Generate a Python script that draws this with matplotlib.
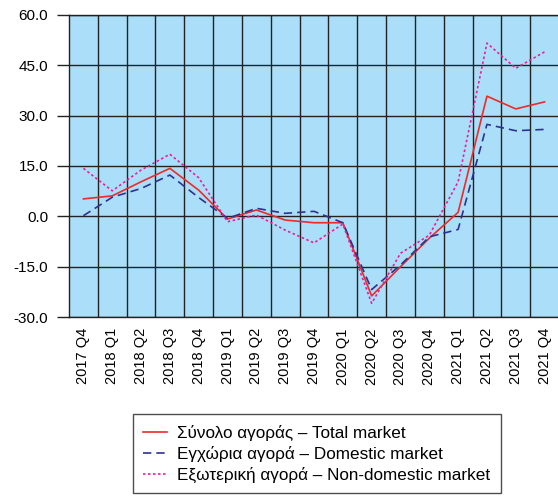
import matplotlib.pyplot as plt
import numpy as np

quarters = ['2017 Q4', '2018 Q1', '2018 Q2', '2018 Q3', '2018 Q4',
            '2019 Q1', '2019 Q2', '2019 Q3', '2019 Q4', '2020 Q1',
            '2020 Q2', '2020 Q3', '2020 Q4', '2021 Q1', '2021 Q2',
            '2021 Q3', '2021 Q4']

total = [5.2, 6.1, 10.3, 14.3, 7.8, -0.8, 1.9, -1.1, -1.9, -1.9,
         -23.7, -15.0, -6.5, 1.2, 35.8, 32.0, 34.1]
domestic = [0.2, 5.7, 8.3, 12.3, 5.6, -0.6, 2.4, 0.9, 1.5, -1.9,
            -21.8, -14.5, -6.1, -3.9, 27.4, 25.5, 25.9]
non_domestic = [14.3, 7.6, 13.8, 18.5, 11.5, -1.6, 0.4, -4.1, -7.9, -2.3,
                -25.9, -11.0, -5.6, 10.3, 51.6, 44.1, 49.0]

labels = ['Σύνολο αγοράς – Total market',
          'Εγχώρια αγορά – Domestic market',
          'Εξωτερική αγορά – Non-domestic market']

plt.rcParams['font.family'] = ['Liberation Sans', 'DejaVu Sans']

fig = plt.figure(figsize=(5.58, 4.97), dpi=100)
ax = fig.add_axes([0.1237, 0.362, 0.8781, 0.608])
ax.set_facecolor('#abdff9')

x = np.arange(len(quarters))
ax.plot(x, total, color='#ee2a2a', lw=1.2, label=labels[0])
ax.plot(x, domestic, color='#2e3192', lw=1.2, ls=(0, (5, 3)), label=labels[1])
ax.plot(x, non_domestic, color='#ec1c9c', lw=1.2, ls=(0, (1.5, 1.5)), label=labels[2])

ax.set_xlim(-0.5, len(quarters) - 0.5)
ax.set_ylim(-30, 60)
ax.set_yticks(np.arange(-30, 61, 15))
ax.set_yticklabels([f'{v:.1f}' for v in np.arange(-30, 61, 15)], fontsize=11)
ax.set_xticks(x)
ax.set_xticklabels(quarters, rotation=90, fontsize=10.5)
# vertical grid lines between the quarters
ax.set_xticks(np.arange(0.5, len(quarters) - 1, 1), minor=True)
ax.tick_params(axis='x', which='both', length=0, pad=8)
ax.tick_params(axis='y', length=9, width=1, pad=6, color='#222222')
ax.grid(True, axis='y', which='major', color='#222222', lw=1)
ax.grid(True, axis='x', which='minor', color='#222222', lw=1)
ax.set_axisbelow(True)
for s in ax.spines.values():
    s.set_color('#222222')
    s.set_linewidth(1)

fig.legend(loc='upper center', bbox_to_anchor=(0.568, 0.166), fontsize=12.3,
           frameon=True, fancybox=False, edgecolor='#222222', borderaxespad=0,
           handlelength=1.4, handletextpad=0.6, labelspacing=0.3,
           borderpad=0.6)

fig.savefig('out.png', dpi=100)
